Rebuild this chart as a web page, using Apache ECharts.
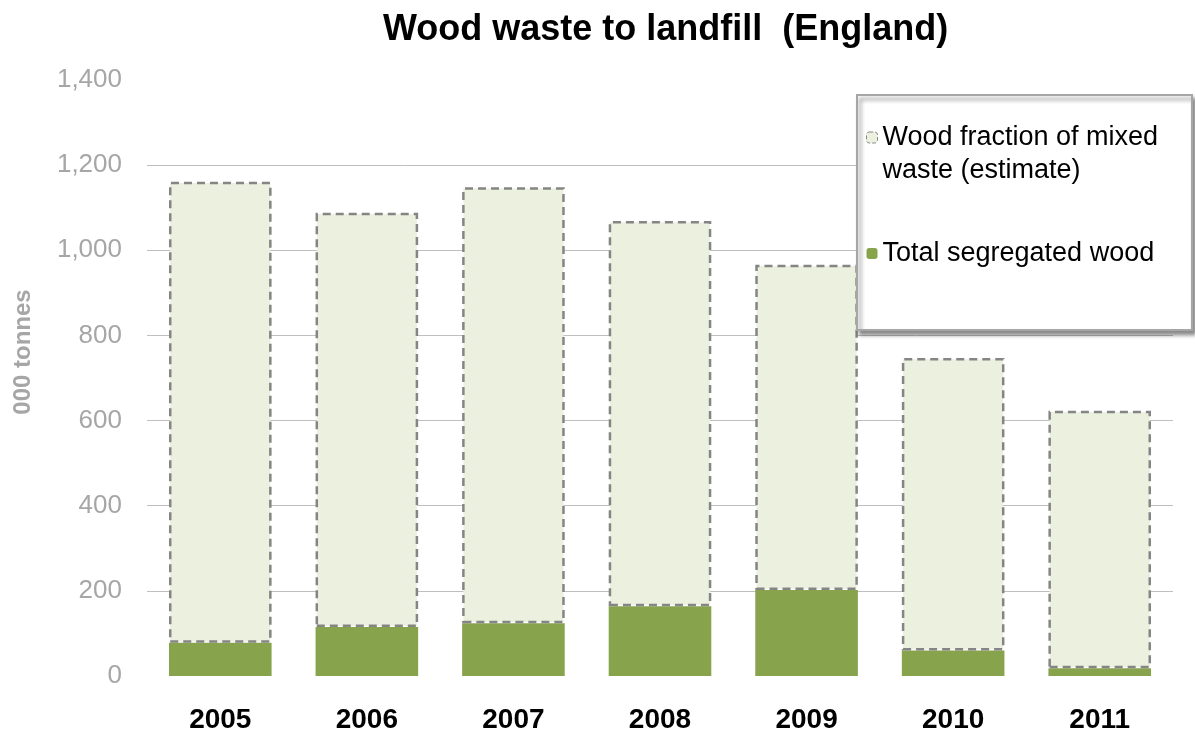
<!DOCTYPE html>
<html lang="en" style="height: 100%">
<head>
    <meta charset="utf-8">
    <title>Wood waste to landfill</title>
    <script src="https://cdn.jsdelivr.net/npm/echarts@6/dist/echarts.min.js"></script>
</head>
<body style="height: 100%; margin: 0; background: #fff">
    <div id="main" style="width: 1195px; height: 735px"></div>
    <script type="text/javascript">
        // data (000 tonnes)
        var years = ['2005', '2006', '2007', '2008', '2009', '2010', '2011'];
        var segregated = [78, 115, 124, 164, 202, 60, 18];
        var mixedFraction = [1083, 973, 1024, 905, 764, 687, 605];
        var yTicks = [0, 200, 400, 600, 800, 1000, 1200, 1400];

        var FONT = 'Liberation Sans, Arial, sans-serif';
        var MIXED = 'Wood fraction of mixed waste (estimate)';
        var SEG = 'Total segregated wood';
        var myChart = echarts.init(document.getElementById('main'));

        var option = {
            animation: false,
            title: {
                text: 'Wood waste to landfill  (England)',
                left: 378,
                top: 7,
                textStyle: { fontFamily: FONT, fontSize: 36, fontWeight: 'bold', color: '#000' }
            },
            // legend frame with its drop shadow
            graphic: [{
                type: 'rect',
                left: 856, top: 94,
                shape: { width: 335, height: 235 },
                z: 10,
                style: {
                    fill: '#fff', stroke: '#a6a6a6', lineWidth: 2,
                    shadowColor: 'rgba(0,0,0,0.45)', shadowBlur: 4, shadowOffsetX: 3, shadowOffsetY: 4
                }
            }],
            legend: {
                orient: 'vertical',
                left: 866,
                top: 88,
                padding: 0,
                itemGap: 50,
                itemWidth: 11,
                itemHeight: 11,
                z: 20,
                textStyle: { fontFamily: FONT, fontSize: 27, color: '#000', lineHeight: 33 },
                formatter: function (name) {
                    // blank first line keeps the icon level with the first text line
                    return name === MIXED ? ' \nWood fraction of mixed\nwaste (estimate)' : name;
                },
                data: [
                    { name: MIXED,
                      itemStyle: { color: '#ebf0df', borderColor: '#888', borderWidth: 1, borderType: 'dashed' } },
                    { name: SEG, itemStyle: { color: '#87a34b', borderWidth: 0 } }
                ]
            },
            grid: { left: 147, right: 22, top: 80, bottom: 59 },
            xAxis: {
                type: 'category',
                data: years,
                axisLine: { show: false },
                axisTick: { show: false },
                axisLabel: { fontFamily: FONT, fontSize: 28, fontWeight: 'bold', color: '#000', margin: 30 }
            },
            yAxis: {
                type: 'value',
                min: yTicks[0],
                max: yTicks[yTicks.length - 1],
                interval: 200,
                name: '000 tonnes',
                nameLocation: 'middle',
                nameGap: 112,
                nameTextStyle: { fontFamily: FONT, fontSize: 24, fontWeight: 'bold', color: '#a6a6a6', padding: [0, 0, 0, 52] },
                axisLine: { show: false },
                axisTick: { show: false },
                splitLine: { showMinLine: false, showMaxLine: false, lineStyle: { color: '#bfbfbf', width: 1 } },
                axisLabel: {
                    fontFamily: FONT, fontSize: 26, color: '#a6a6a6', margin: 25,
                    formatter: function (v) { return v.toLocaleString('en-US'); }
                }
            },
            series: [
                {
                    name: SEG,
                    type: 'bar',
                    stack: 'wood',
                    barWidth: '70%',
                    data: segregated,
                    itemStyle: { color: '#87a34b' }
                },
                {
                    name: MIXED,
                    type: 'bar',
                    stack: 'wood',
                    barWidth: '70%',
                    data: mixedFraction,
                    itemStyle: { color: '#ebf0df', borderColor: '#858585', borderWidth: 2.5, borderType: [8, 5] }
                }
            ]
        };
        myChart.setOption(option);
    </script>
</body>
</html>
